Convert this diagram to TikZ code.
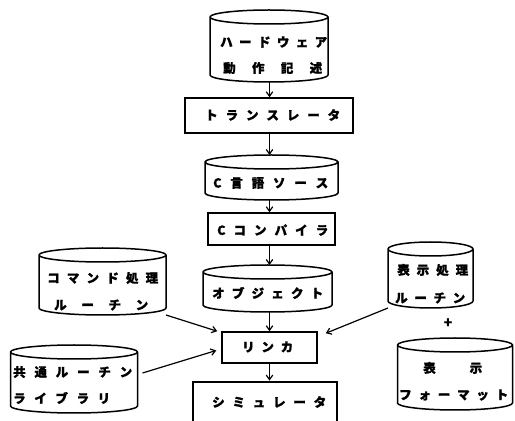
\documentclass[tikz,border=0pt]{standalone}
\usepackage{fontspec}
\newfontfamily\jpfont{Noto Sans CJK JP}[BoldFeatures={FakeBold=1.2}]
\usetikzlibrary{arrows.meta,calc}

% spread the characters of a label evenly over a given width
\def\sprdfirst#1{#1\sprdnext}
\def\sprdnext#1{\ifx#1\sprdstop\else\hfill#1\expandafter\sprdnext\fi}
\let\sprdstop\relax
\newcommand\spreadtext[2]{\makebox[#1]{\sprdfirst#2\sprdstop}}

% vertical drum (database) outline over the extent of a node
\def\cylry{7pt}
\newcommand\drawcyl[1]{%
  \draw[outline] let \p1=(#1.north west), \p2=(#1.south east),
      \n1={(\x2-\x1)/2} in
    (\x1,{\y1-\cylry}) -- (\x1,{\y2+\cylry})
      arc[start angle=180,end angle=360,x radius=\n1,y radius=\cylry]
      -- (\x2,{\y1-\cylry})
    ({\x1+\n1},{\y1-\cylry}) ellipse[x radius=\n1,y radius=\cylry];}

\tikzset{
  outline/.style={line width=1.5pt,line join=round},
  drum/.style={draw=none,inner sep=0pt,outer sep=0pt},
  box/.style={draw,line width=1.5pt,inner sep=0pt},
  thickbox/.style={draw,line width=2.8pt,inner sep=0pt},
  jtext/.style={inner sep=0pt,anchor=west,
    font=\jpfont\bfseries\fontsize{12.5}{12.5}\selectfont},
  arr/.style={line width=1.2pt,-{Straight Barb[length=4.5pt,width=6.5pt]}},
}

\begin{document}
\begin{tikzpicture}[x=1pt,y=1pt]
\useasboundingbox[fill=white] (0,0) rectangle (515,421);
\clip (0,0) rectangle (515,421);

% central column
\node[drum,minimum width=118pt,minimum height=72pt] (hw) at (269,375) {};
\node[box,minimum width=168pt,minimum height=35pt] (tr) at (269,305.5) {};
\node[drum,minimum width=133pt,minimum height=45pt] (cs) at (271.5,243.5) {};
\node[box,minimum width=127pt,minimum height=32pt] (cc) at (271.5,192) {};
\node[drum,minimum width=129pt,minimum height=47pt] (ob) at (267.5,132.5) {};
\node[box,minimum width=95pt,minimum height=31pt] (lk) at (269.5,73.5) {};
% the simulator box runs off the lower edge of the page
\node[thickbox,minimum width=144pt,minimum height=45pt] (sim) at (265,16.5) {};

% side inputs
\node[drum,minimum width=127pt,minimum height=67pt] (cmd) at (102.5,139.5) {};
\node[drum,minimum width=127pt,minimum height=68pt] (lib) at (74,42) {};
\node[drum,minimum width=85pt,minimum height=66pt] (disp) at (430.5,146) {};
\node[drum,minimum width=115pt,minimum height=72pt] (fmt) at (455,47) {};

\foreach \c in {hw,cs,ob,cmd,lib,disp,fmt} {\drawcyl{\c}}

% labels
\node[jtext] (hw1) at (220,379) {\spreadtext{107pt}{ハードウェア}};
\node[jtext] (hw2) at (223,353) {\spreadtext{99pt}{動作記述}};
\node[jtext] (trl) at (205,306) {\spreadtext{135pt}{トランスレータ}};
\node[jtext] (csl) at (213,238) {\spreadtext{115pt}{C言語ソース}};
\node[jtext] (ccl) at (217,191) {\spreadtext{111pt}{Cコンパイラ}};
\node[jtext] (obl) at (212,128) {\spreadtext{111pt}{オブジェクト}};
\node[jtext] (lkl) at (242,74) {\spreadtext{51pt}{リンカ}};
\node[jtext] (siml) at (212,19) {\spreadtext{114pt}{シミュレータ}};
\node[jtext] (cmd1) at (47,143) {\spreadtext{111pt}{コマンド処理}};
\node[jtext] (cmd2) at (54,116) {\spreadtext{94pt}{ルーチン}};
\node[jtext] (lib1) at (13,49) {\spreadtext{119pt}{共通ルーチン}};
\node[jtext] (lib2) at (13,23) {\spreadtext{97pt}{ライブラリ}};
\node[jtext] (disp1) at (397,151) {\spreadtext{71pt}{表示処理}};
\node[jtext] (disp2) at (395,123) {\spreadtext{70pt}{ルーチン}};
\node[jtext] (fmt1) at (423,53) {\spreadtext{59pt}{表示}};
\node[jtext] (fmt2) at (399,26) {\spreadtext{109pt}{フォーマット}};
\node[inner sep=0pt,font=\jpfont\bfseries\fontsize{14}{14}\selectfont] (plus) at (448,98) {+};

% flow arrows
\draw[arr] (hw.south -| lk.center) -- (tr.north -| lk.center);
\draw[arr] (tr.south -| lk.center) -- (cs.north -| lk.center);
\draw[arr] (cs.south -| lk.center) -- (cc.north -| lk.center);
\draw[arr] (cc.south -| lk.center) -- (ob.north -| lk.center);
\draw[arr] (ob.south -| lk.center) -- (lk.north);
\draw[arr] (lk.south) -- (sim.north -| lk.center);
\draw[arr] (cmd.south east) -- ($(lk.north west)+(-4,0)$);
\draw[arr] ($(lib.east)+(5,6)$) -- ($(lk.west)+(-5,-3)$);
\draw[arr] (disp.south west) -- ($(lk.north east)+(8,-2)$);
\end{tikzpicture}
\end{document}
